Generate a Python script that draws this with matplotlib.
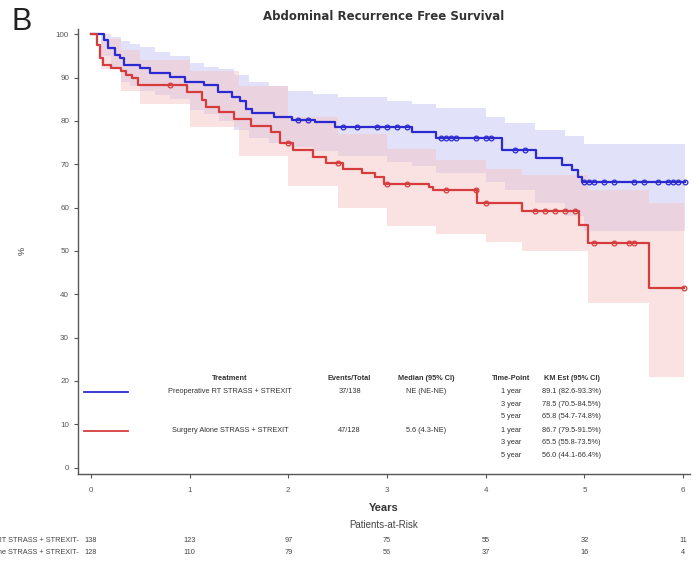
import numpy as np
import matplotlib.pyplot as plt
import matplotlib.transforms as mtransforms

plt.rcParams['font.family'] = ['Liberation Sans', 'DejaVu Sans']

# Kaplan-Meier step curves (years, % recurrence free)
rt_time = [0, 0.13, 0.17, 0.24, 0.29, 0.34, 0.50, 0.60, 0.80, 0.95, 1.15, 1.29, 1.43,
           1.51, 1.57, 1.63, 1.86, 2.04, 2.27, 2.47, 3.25, 3.50, 4.16, 4.51, 4.77,
           4.87, 4.93, 4.98, 6.02]
rt_surv = [100, 98.6, 96.8, 95.2, 94.5, 92.9, 92.2, 91.0, 90.1, 89.1, 88.3, 86.6, 85.6,
           84.6, 82.8, 81.8, 81.0, 80.3, 79.7, 78.6, 77.4, 76.0, 73.3, 71.4, 69.8,
           68.6, 67.0, 65.8, 65.8]
rt_censor = [2.10, 2.20, 2.55, 2.70, 2.90, 3.00, 3.10, 3.20, 3.55, 3.60, 3.65, 3.70,
             3.90, 4.00, 4.05, 4.30, 4.40, 5.00, 5.05, 5.10, 5.20, 5.30, 5.50, 5.60,
             5.75, 5.85, 5.90, 5.95, 6.02]

sa_time = [0, 0.06, 0.09, 0.12, 0.20, 0.30, 0.36, 0.42, 0.48, 0.97, 1.13, 1.17, 1.30,
           1.45, 1.62, 1.82, 1.92, 2.05, 2.25, 2.38, 2.55, 2.75, 2.88, 2.97, 3.43,
           3.47, 3.91, 4.37, 4.95, 5.04, 5.65, 6.01]
sa_surv = [100, 97.5, 94.5, 92.9, 92.2, 91.5, 90.6, 89.9, 88.2, 86.7, 84.8, 83.2, 82.0,
           80.4, 78.8, 77.4, 75.0, 73.3, 71.8, 70.3, 68.8, 68.0, 67.0, 65.5, 64.7,
           64.0, 61.0, 59.2, 56.0, 51.8, 41.5, 41.5]
sa_censor = [0.80, 2.00, 2.50, 3.00, 3.20, 3.60, 3.90, 4.00, 4.50, 4.60, 4.70, 4.80,
             4.90, 5.10, 5.30, 5.45, 5.50, 6.01]

# 95% confidence bands
rt_ci_time = [0, 0.10, 0.20, 0.30, 0.40, 0.50, 0.65, 0.80, 1.00, 1.15, 1.30, 1.45, 1.60,
              1.80, 2.00, 2.25, 2.50, 3.00, 3.25, 3.50, 4.00, 4.20, 4.50, 4.80, 5.00, 6.02]
rt_ci_hi = [100, 100, 99.5, 98.5, 97.8, 97.0, 96.0, 95.0, 93.3, 92.5, 92.0, 90.5, 89.0,
            88.0, 87.0, 86.2, 85.5, 84.5, 84.0, 83.0, 81.0, 79.5, 78.0, 76.5, 74.8, 74.8]
rt_ci_lo = [100, 95.0, 92.0, 89.0, 88.0, 87.0, 86.0, 85.0, 82.6, 81.5, 80.0, 78.0, 76.0,
            75.0, 74.0, 73.0, 72.0, 70.5, 69.5, 68.0, 66.0, 64.0, 61.0, 58.0, 54.7, 54.7]

sa_ci_time = [0, 0.10, 0.30, 0.50, 1.00, 1.50, 2.00, 2.50, 3.00, 3.50, 4.00, 4.37, 5.04,
              5.65, 6.01]
sa_ci_hi = [100, 99.0, 96.5, 94.0, 91.5, 88.0, 81.0, 77.0, 73.5, 71.0, 69.0, 67.5, 64.0,
            61.0, 61.0]
sa_ci_lo = [100, 92.0, 87.0, 84.0, 78.5, 72.0, 65.0, 60.0, 55.8, 54.0, 52.0, 50.0, 38.0,
            21.0, 21.0]

# patients at risk by year
risk_years = [0, 1, 2, 3, 4, 5, 6]
rt_risk = [138, 123, 97, 75, 55, 32, 11]
sa_risk = [128, 110, 79, 56, 37, 16, 4]

groups = ["Preoperative RT STRASS + STREXIT", "Surgery Alone STRASS + STREXIT"]
events = ["37/138", "47/128"]
medians = ["NE (NE-NE)", "5.6 (4.3-NE)"]
time_points = ["1 year", "3 year", "5 year"]
rt_km = ["89.1 (82.6-93.3%)", "78.5 (70.5-84.5%)", "65.8 (54.7-74.8%)"]
sa_km = ["86.7 (79.5-91.5%)", "65.5 (55.8-73.5%)", "56.0 (44.1-66.4%)"]

BLUE = "#2a2ad0"
RED = "#d63c3c"

fig = plt.figure(figsize=(6.97, 5.66), dpi=100)
ax = fig.add_axes([0.112, 0.1625, 0.878, 0.786])

# bands first, then curves
ax.fill_between(rt_ci_time, rt_ci_lo, rt_ci_hi, step="post", color="#c4c4f4",
                alpha=0.5, lw=0)
ax.fill_between(sa_ci_time, sa_ci_lo, sa_ci_hi, step="post", color="#f6c0c0",
                alpha=0.45, lw=0)

ax.step(rt_time, rt_surv, where="post", color=BLUE, lw=1.6)
ax.step(sa_time, sa_surv, where="post", color=RED, lw=1.6)

rt_c_y = [rt_surv[np.searchsorted(rt_time, t, side="right") - 1] for t in rt_censor]
sa_c_y = [sa_surv[np.searchsorted(sa_time, t, side="right") - 1] for t in sa_censor]
ax.plot(rt_censor, rt_c_y, "o", ms=3.4, mfc="none", mec=BLUE, mew=0.9)
ax.plot(sa_censor, sa_c_y, "o", ms=3.4, mfc="none", mec=RED, mew=0.9)

ax.set_xlim(-0.13, 6.07)
ax.set_ylim(-1.5, 101.2)
ax.set_xticks(risk_years)
ax.set_yticks(range(0, 101, 10))
for s in ["top", "right"]:
    ax.spines[s].set_visible(False)
for s in ["left", "bottom"]:
    ax.spines[s].set_color("#555555")
    ax.spines[s].set_linewidth(1.0)
ax.tick_params(axis="both", labelsize=5.8, colors="#555555", length=3, width=0.8)
ax.tick_params(axis="x", pad=6)

# in-plot summary table
hy, row_y = 20.5, [[17.5, 14.5, 11.75], [8.5, 5.75, 2.75]]
cols = [1.41, 2.62, 3.40, 4.26, 4.87]
heads = ["Treatment", "Events/Total", "Median (95% CI)", "Time-Point", "KM Est (95% CI)"]
for cx, h in zip(cols, heads):
    ax.text(cx, hy, h, ha="center", va="center", fontsize=5.3, fontweight="bold",
            color="#333333")
for g, (col, km) in enumerate([(BLUE, rt_km), (RED, sa_km)]):
    y0 = row_y[g][0]
    ax.plot([-0.07, 0.375], [y0, y0], color=col, lw=1.3)
    ax.text(cols[0], y0, groups[g], ha="center", va="center", fontsize=5.3, color="#333333")
    ax.text(cols[1], y0, events[g], ha="center", va="center", fontsize=5.3, color="#333333")
    ax.text(cols[2], y0, medians[g], ha="center", va="center", fontsize=5.3, color="#333333")
    for yy, tp, k in zip(row_y[g], time_points, km):
        ax.text(cols[3], yy, tp, ha="center", va="center", fontsize=5.3, color="#333333")
        ax.text(cols[4], yy, k, ha="center", va="center", fontsize=5.3, color="#333333")

# titles and labels
fig.text(22 / 697, 1 - 22 / 566, "B", fontsize=22, ha="center", va="center",
         color="#222222")
fig.text(384 / 697, 1 - 17 / 566, "Abdominal Recurrence Free Survival",
         fontsize=8.5, fontweight="bold", ha="center", va="center", color="#333333",
         family=["DejaVu Sans"])
fig.text(22 / 697, 1 - 251 / 566, "%", fontsize=6.5, rotation=90, ha="center",
         va="center", color="#333333")
fig.text(384 / 697, 1 - 508 / 566, "Years", fontsize=8, fontweight="bold",
         ha="center", va="center", color="#333333")
fig.text(384 / 697, 1 - 525 / 566, "Patients-at-Risk", fontsize=7, ha="center",
         va="center", color="#444444")

# at-risk rows below the axis (row labels run off the left edge)
trans = mtransforms.blended_transform_factory(ax.transData, fig.transFigure)
for yy, lab, vals in [(1 - 540 / 566, groups[0], rt_risk),
                      (1 - 552 / 566, groups[1], sa_risk)]:
    fig.text(79 / 697, yy, lab + "-", fontsize=5.3, ha="right", va="center",
             color="#444444")
    for xv, n in zip(risk_years, vals):
        ax.text(xv, yy, str(n), transform=trans, fontsize=5.3, ha="center",
                va="center", color="#444444", clip_on=False)

fig.savefig("out.png", dpi=100)
